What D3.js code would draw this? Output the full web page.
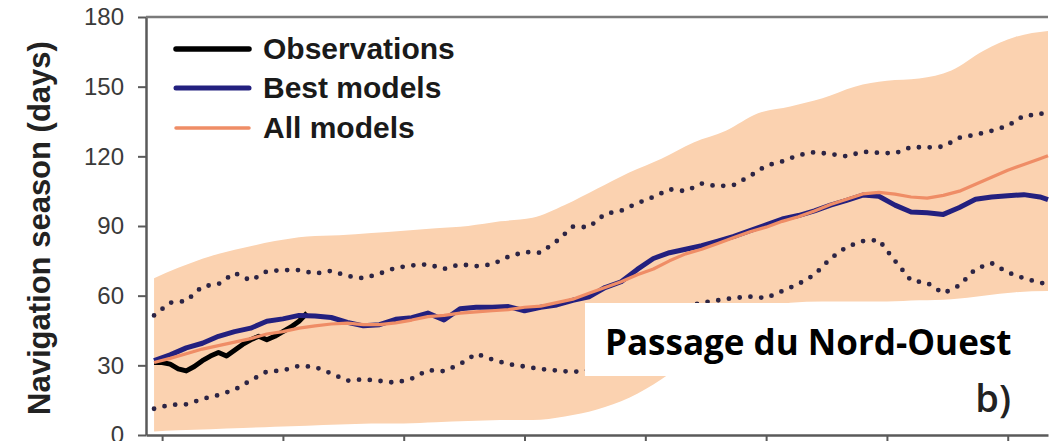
<!DOCTYPE html>
<html>
<head>
<meta charset="utf-8">
<script src="https://cdn.jsdelivr.net/npm/d3@7"></script>
<style>
  html, body { margin: 0; padding: 0; background: #fff; }
  svg { display: block; }
</style>
</head>
<body>
<svg id="chart" width="1064" height="441"></svg>
<script>
// ---------- data ----------
const yTicks = [0, 30, 60, 90, 120, 150, 180];
const xTicks = [1980, 1995, 2010, 2025, 2040, 2055, 2070, 2085];

const legendLabels = ["Observations", "Best models", "All models"];

const bandYears = [1979,1982,1986,1990,1994,1998,2002,2006,2010,2014,2018,2022,2026,2030,2034,2038,2042,2046,2050,2054,2058,2062,2066,2070,2074,2078,2082,2086,2090];
const bandUpper = [67.5,72,77,80.5,83.5,85.5,86,87,88,89,90,92,93.5,99,106,113,119,126,131,138.5,141.5,145,150,152.5,153.5,157,165.5,171.5,174];
const bandLower = [1.5,2,2.5,3,3.5,4,4.5,5,5,5.5,6,6.5,6.5,8,11,16,24,34,44,52,57,57.5,57.5,57.5,58,58.5,60,61.5,62];

const years = [1979,1981,1983,1985,1987,1989,1991,1993,1995,1997,1999,2001,2003,2005,2007,2009,2011,2013,2015,2017,2019,2021,2023,2025,2027,2029,2031,2033,2035,2037,2039,2041,2043,2045,2047,2049,2051,2053,2055,2057,2059,2061,2063,2065,2067,2069,2071,2073,2075,2077,2079,2081,2083,2085,2087,2089,2090];
const dotUpper = [51.5,57,57.7,64,65,69.8,66.5,70.5,71,71,69.5,70.7,68.5,67.5,69.5,72,73,73.5,71.5,73.5,72.7,73.5,76.8,78.8,78.5,83.5,89.7,89.5,95.2,96.6,99.8,102.5,105.8,105,108.3,107.1,107.7,111.5,116,117.8,120.5,121.8,121,120,122,121.5,121.3,124,123.8,124.2,128,129.3,131,133.1,137.5,138,140];
const dotLower = [11.3,13,13.2,15.5,17.2,19.5,23.5,27.3,27.8,29.8,29.3,26.5,23.4,24,23.3,22.5,24.3,27.9,27.5,30.5,35,32.5,30.5,29.5,28.4,27.8,27.1,28,31,35,40,46,51,55,57,58,59,59.6,59,62,65,69,76,81,83.5,84,75,66.5,65.5,61,64.4,71.5,74,70,67.5,65.6,65];
const bestModels = [32,34.5,37.5,39.5,42.5,44.5,46,49,50,51.5,51.2,50.6,48.5,47,47.5,49.8,50.5,52.5,49.5,54.4,55,55,55.3,53.5,55,56,58,59.5,63.5,66,71.3,76,78.5,80,81.5,83.5,85.5,88,90.5,93,94.5,96.5,99,101,103.3,102.8,99,96,95.7,95,98,101.5,102.5,103,103.5,102.5,101.4];
const allModels = [31.2,33,35,37,38.5,40,41.5,43.5,44.5,46,47,47.8,48.2,47.5,47.5,48.3,49.5,51,51.5,52.5,53,53.5,54,55,55.5,57,58.5,61,63.5,66,69,71.5,75,78,80,82.5,85,87.5,89.5,92,94,96.5,99.3,101.5,103.8,104.5,103.7,102.5,102,103.2,105,108,111,114,116.5,119,120.3];

const obsYears = [1979,1980,1981,1982,1983,1984,1985,1986,1987,1988,1989,1990,1991,1992,1993,1994,1995,1996,1997,1998];
const observations = [31.2,31.2,30.5,28.5,27.6,29.5,32,34,35.5,34,36.5,39,41,42.5,41,42.5,44.5,46.5,49,52.5];

// ---------- chart ----------
const svg = d3.select("#chart");
const x = d3.scaleLinear().domain([1978, 2090]).range([146, 1048]);
const y = d3.scaleLinear().domain([0, 180]).range([435, 17]);

const colors = { band: "#fbd2b0", obs: "#000000", best: "#23207f", all: "#ef8d66", dots: "#2c2444", axis: "#5a5a5a" };

// band
const band = d3.area()
  .curve(d3.curveMonotoneX)
  .x((d, i) => x(bandYears[i]))
  .y0((d, i) => y(bandLower[i]))
  .y1((d, i) => y(bandUpper[i]));
svg.append("path").datum(bandYears).attr("d", band).attr("fill", colors.band);

const lineFor = (xs, ys) => d3.line().x((d, i) => x(xs[i])).y((d, i) => y(ys[i]))(xs);

// dotted lines
[dotUpper, dotLower].forEach(arr => {
  svg.append("path").attr("d", lineFor(years, arr))
    .attr("fill", "none").attr("stroke", colors.dots)
    .attr("stroke-width", 4.8).attr("stroke-linecap", "round")
    .attr("stroke-dasharray", "0,10.8");
});

// observations, best, all
svg.append("path").attr("d", lineFor(obsYears, observations))
  .attr("fill", "none").attr("stroke", colors.obs).attr("stroke-width", 5).attr("stroke-linejoin", "round");
svg.append("path").attr("d", lineFor(years, bestModels))
  .attr("fill", "none").attr("stroke", colors.best).attr("stroke-width", 5).attr("stroke-linejoin", "round");
svg.append("path").attr("d", lineFor(years, allModels))
  .attr("fill", "none").attr("stroke", colors.all).attr("stroke-width", 3.2).attr("stroke-linejoin", "round");

// axes
const yAxis = svg.append("g").attr("transform", `translate(${x(1978)},0)`)
  .call(d3.axisLeft(y).tickValues(yTicks).tickSize(8).tickSizeOuter(0).tickPadding(14));
yAxis.selectAll("text").attr("font-family", "'Liberation Sans', Arial, sans-serif")
  .attr("font-size", 24).attr("fill", "#3a3a3a");
const xAxis = svg.append("g").attr("transform", `translate(0,${y(0)})`)
  .call(d3.axisBottom(x).tickValues(xTicks).tickSize(7).tickSizeOuter(0).tickFormat(() => ""));
[yAxis, xAxis].forEach(g => {
  g.select(".domain").attr("stroke", colors.axis).attr("stroke-width", 2.5);
  g.selectAll(".tick line").attr("stroke", colors.axis).attr("stroke-width", 2);
});
// top border
svg.append("line").attr("x1", x(1978)).attr("x2", x(2090)).attr("y1", y(180)).attr("y2", y(180))
  .attr("stroke", "#7a7a7a").attr("stroke-width", 2.5);

// y title
svg.append("text").attr("transform", `translate(50,${(y(0) + y(180)) / 2 + 2}) rotate(-90)`)
  .attr("text-anchor", "middle").attr("font-family", "'Liberation Sans', Arial, sans-serif")
  .attr("font-weight", "bold").attr("font-size", 31).attr("fill", "#222")
  .text("Navigation season (days)");

// legend
const legendColors = [colors.obs, colors.best, colors.all];
const legendWidths = [5.5, 5, 3.5];
const legendY = [49, 88, 128];
const lg = svg.append("g");
legendLabels.forEach((lab, i) => {
  lg.append("line").attr("x1", 176).attr("x2", 249).attr("y1", legendY[i]).attr("y2", legendY[i])
    .attr("stroke", legendColors[i]).attr("stroke-width", legendWidths[i]).attr("stroke-linecap", "round");
  lg.append("text").attr("x", 263).attr("y", legendY[i] + 10)
    .attr("font-family", "'Liberation Sans', Arial, sans-serif").attr("font-weight", "bold")
    .attr("font-size", 30).attr("fill", "#1a1a1a").text(lab);
});

// label box
svg.append("rect").attr("x", 585).attr("y", 303).attr("width", 479).attr("height", 73).attr("fill", "#fff");
svg.append("text").attr("x", 605).attr("y", 355)
  .attr("font-family", "'Open Sans', 'Noto Sans', sans-serif").attr("font-weight", "bold")
  .attr("font-size", 35).attr("fill", "#000").text("Passage du Nord-Ouest");
svg.append("text").attr("x", 1011).attr("y", 412).attr("text-anchor", "end")
  .attr("font-family", "'Open Sans', 'Noto Sans', sans-serif").attr("font-weight", 600)
  .attr("font-size", 38).attr("fill", "#222").text("b)");
</script>
</body>
</html>
